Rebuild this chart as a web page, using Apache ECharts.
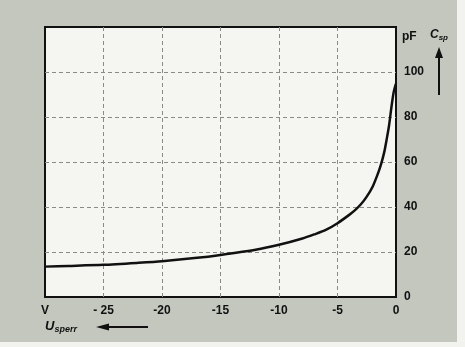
<!DOCTYPE html>
<html><head><meta charset="utf-8">
<script src="https://cdn.jsdelivr.net/npm/echarts@6/dist/echarts.min.js"></script>
<style>html,body{margin:0;padding:0;background:#fff}#c{width:465px;height:347px}</style>
</head><body><div id="c"></div>
<script>
const voltage = [-30, -28, -25, -22, -20, -17, -15, -12, -10, -8, -7, -6, -5, -4, -3.5, -3, -2.5, -2, -1.5, -1.25, -1, -0.8, -0.6, -0.4, -0.2, 0];
const capacitance = [13.5, 13.8, 14.3, 15.2, 15.9, 17.4, 18.7, 21.0, 23.2, 26.0, 27.8, 29.8, 32.8, 36.5, 38.6, 41.2, 44.6, 49, 55.5, 59.5, 64.5, 70, 76, 84, 91, 95];
const xTickLabels = {'-30': 'V', '-25': '- 25', '-20': '-20', '-15': '-15', '-10': '-10', '-5': '-5', '0': '0'};
const yTickLabels = ['0', '20', '40', '60', '80', '100'];

const chart = echarts.init(document.getElementById('c'));
const font = 'Liberation Sans';
chart.setOption({
  backgroundColor: '#c3c7be',
  animation: false,
  grid: {left: 45, right: 69, top: 27, bottom: 50, show: true, backgroundColor: '#f5f6f2', borderColor: '#111', borderWidth: 2, z: 0},
  xAxis: {
    type: 'value', min: -30, max: 0, interval: 5,
    axisLine: {show: false}, axisTick: {show: false},
    splitLine: {show: true, showMinLine: false, showMaxLine: false, lineStyle: {color: '#8a8a86', width: 1, type: [4, 3]}},
    axisLabel: {margin: 8, color: '#111', fontFamily: font, fontWeight: 'bold', fontSize: 12,
      formatter: v => xTickLabels[String(v)] ?? ''}
  },
  yAxis: {
    type: 'value', position: 'right', min: 0, max: 120, interval: 20,
    axisLine: {show: false}, axisTick: {show: false},
    splitLine: {show: true, showMinLine: false, showMaxLine: false, lineStyle: {color: '#8a8a86', width: 1, type: [4, 3]}},
    axisLabel: {margin: 8, color: '#111', fontFamily: font, fontWeight: 'bold', fontSize: 12,
      formatter: v => yTickLabels[v / 20] ?? ''},
    name: 'pF', nameLocation: 'end', nameGap: 4,
    nameTextStyle: {align: 'left', padding: [0, 0, -20, 6], color: '#111', fontFamily: font, fontWeight: 'bold', fontSize: 12}
  },
  series: [{
    type: 'line', data: voltage.map((v, i) => [v, capacitance[i]]),
    smooth: 0.25, symbol: 'none',
    lineStyle: {color: '#111', width: 2.5, join: 'round'}
  }],
  graphic: [
    {type: 'text', left: 430, top: 29, style: {
      text: '{c|C}{s|sp}', rich: {
        c: {fontFamily: font, fontStyle: 'italic', fontWeight: 'bold', fontSize: 12, fill: '#111'},
        s: {fontFamily: font, fontStyle: 'italic', fontWeight: 'bold', fontSize: 8, fill: '#111', padding: [6, 0, 0, 0]}
      }}},
    {type: 'line', shape: {x1: 439, y1: 95, x2: 439, y2: 56}, style: {stroke: '#111', lineWidth: 2}},
    {type: 'polygon', shape: {points: [[435, 58], [443, 58], [439, 47]]}, style: {fill: '#111'}},
    {type: 'text', left: 45, top: 320, style: {
      text: '{u|U}{s|sperr}', rich: {
        u: {fontFamily: font, fontStyle: 'italic', fontWeight: 'bold', fontSize: 13, fill: '#111'},
        s: {fontFamily: font, fontStyle: 'italic', fontWeight: 'bold', fontSize: 9, fill: '#111', padding: [7, 0, 0, 0]}
      }}},
    {type: 'line', shape: {x1: 107, y1: 327, x2: 148, y2: 327}, style: {stroke: '#111', lineWidth: 2}},
    {type: 'polygon', shape: {points: [[96, 327], [109, 323.5], [109, 330.5]]}, style: {fill: '#111'}},
    {type: 'rect', shape: {x: 457, y: 0, width: 8, height: 347}, style: {fill: '#f2f2ee'}},
    {type: 'rect', shape: {x: 0, y: 342, width: 465, height: 5}, style: {fill: '#f2f2ee'}}
  ]
});
</script></body></html>
